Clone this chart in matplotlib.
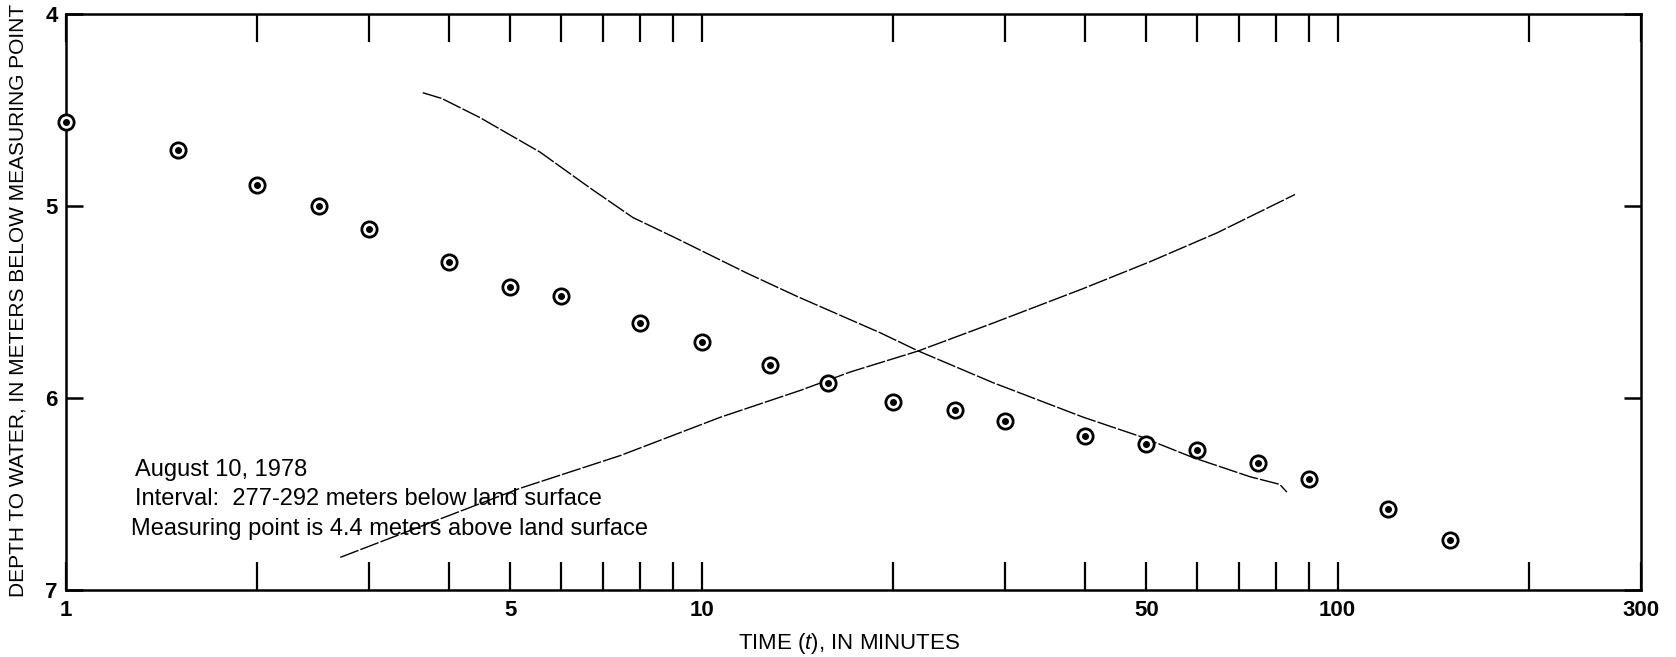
import matplotlib
matplotlib.use('Agg')
import matplotlib.pyplot as plt
from matplotlib import font_manager

# pick a narrow sans if it is installed
names = set(f.name for f in font_manager.fontManager.ttflist)
FONT = 'Liberation Sans Narrow' if 'Liberation Sans Narrow' in names else 'Liberation Sans'
plt.rcParams['font.family'] = [FONT, 'DejaVu Sans']
plt.rcParams['mathtext.fontset'] = 'custom'
plt.rcParams['mathtext.it'] = FONT + ':italic'
plt.rcParams['mathtext.rm'] = FONT

# observed depth to water
time_min = [1, 1.5, 2, 2.5, 3, 4, 5, 6, 8, 10, 12.8, 15.8, 20, 25, 30, 40, 50, 60, 75, 90, 120, 150]
depth_m = [4.56, 4.71, 4.89, 5.00, 5.12, 5.29, 5.42, 5.47, 5.61, 5.71, 5.83, 5.92,
           6.02, 6.06, 6.12, 6.20, 6.24, 6.27, 6.34, 6.42, 6.58, 6.74]

# curve falling with time
fall_t = [3.64, 3.9, 4.48, 5.57, 6.67, 7.79, 9.01, 11.78, 14.1, 19.07, 21.9, 28.7, 39.8, 48.9, 59.2, 72.8, 81.1, 83.2]
fall_d = [4.41, 4.44, 4.54, 4.72, 4.906, 5.06, 5.16, 5.35, 5.47, 5.66, 5.755, 5.92, 6.10, 6.20, 6.31, 6.41, 6.45, 6.49]

# curve rising with time
rise_t = [2.7, 4.32, 5.18, 7.44, 10.7, 14.3, 17.1, 21.9, 28.7, 39.8, 50.7, 64.6, 85.7]
rise_d = [6.83, 6.57, 6.47, 6.30, 6.10, 5.96, 5.865, 5.755, 5.61, 5.43, 5.29, 5.14, 4.94]

xtick_pos = [1, 2, 3, 4, 5, 6, 7, 8, 9, 10, 20, 30, 40, 50, 60, 70, 80, 90, 100, 200, 300]
xtick_lab = ['1', '', '', '', '5', '', '', '', '', '10', '', '', '', '50', '', '', '', '', '100', '', '300']
ytick_pos = [4, 5, 6, 7]

fig = plt.figure(figsize=(16.76, 6.57), dpi=100)
ax = fig.add_axes([66 / 1676, 1 - 590 / 657, 1575 / 1676, 576 / 657])

ax.set_xscale('log')
ax.set_xlim(1, 300)
ax.set_ylim(7, 4)

ax.plot(fall_t, fall_d, color='black', lw=1.0, dashes=(14, 1.5))
ax.plot(rise_t, rise_d, color='black', lw=1.0, dashes=(14, 1.5))

ax.plot(time_min, depth_m, 'o', ms=11, mfc='white', mec='black', mew=2.0, clip_on=False, zorder=5)
ax.plot(time_min, depth_m, 'o', ms=4, color='black', clip_on=False, zorder=6)

ax.set_xticks(xtick_pos)
ax.set_xticklabels(xtick_lab)
ax.xaxis.set_minor_locator(matplotlib.ticker.NullLocator())
ax.tick_params(axis='x', which='major', direction='in', length=20, width=1.6,
               top=True, labelsize=16, pad=7)
ax.set_yticks(ytick_pos)
ax.set_yticklabels(['4', '5', '6', '7'])
ax.tick_params(axis='y', which='major', direction='in', length=12, width=1.8,
               right=True, labelsize=16, pad=6)
for lab in ax.get_xticklabels() + ax.get_yticklabels():
    lab.set_fontweight('bold')

for s in ax.spines.values():
    s.set_linewidth(1.8)

ax.text(0.044, 0.208, 'August 10, 1978', transform=ax.transAxes, fontsize=17, va='center')
ax.text(0.044, 0.158, 'Interval:  277-292 meters below land surface', transform=ax.transAxes,
        fontsize=17, va='center')
ax.text(0.041, 0.106, 'Measuring point is 4.4 meters above land surface', transform=ax.transAxes,
        fontsize=17, va='center')

fig.text(18 / 1676, 1 - 300 / 657, 'DEPTH TO WATER, IN METERS BELOW MEASURING POINT',
         rotation=90, ha='center', va='center', fontsize=15)
fig.text(849 / 1676, 1 - 643 / 657, 'TIME ($\\it{t}$), IN MINUTES', ha='center', va='center',
         fontsize=16)

fig.savefig('out.png', dpi=100)
